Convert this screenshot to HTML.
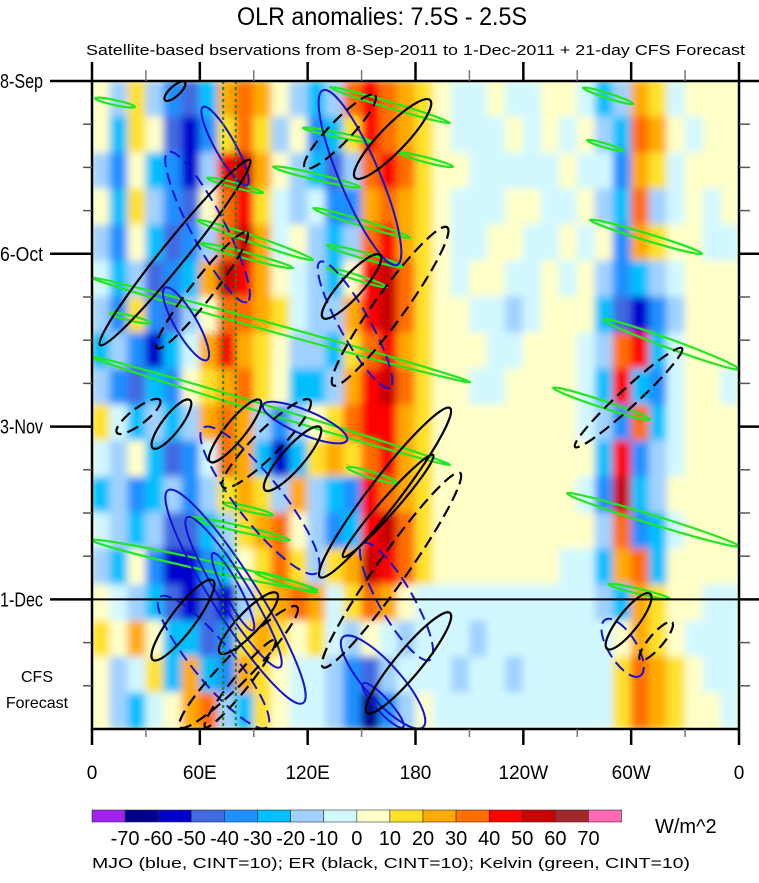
<!DOCTYPE html>
<html><head><meta charset="utf-8">
<style>
html,body{margin:0;padding:0;background:#fff;}
body{width:759px;height:878px;overflow:hidden;font-family:"Liberation Sans",sans-serif;}
svg text{font-family:"Liberation Sans",sans-serif;fill:#000;}
</style></head>
<body>
<svg id="chart" width="759" height="878" viewBox="0 0 759 878">
<defs>
<clipPath id="plotclip"><rect x="92" y="81" width="647" height="648"/></clipPath>
<filter id="smooth" x="-5%" y="-5%" width="110%" height="110%"><feGaussianBlur stdDeviation="4"/></filter>
</defs>
<text x="237" y="25" font-size="25" textLength="290" lengthAdjust="spacingAndGlyphs">OLR anomalies: 7.5S - 2.5S</text>
<text x="86" y="55" font-size="15" textLength="659" lengthAdjust="spacingAndGlyphs">Satellite-based bservations from 8-Sep-2011 to 1-Dec-2011 + 21-day CFS Forecast</text>
<g id="heat" clip-path="url(#plotclip)"><rect x="92" y="81" width="647" height="648" fill="#ffffc8"/><g id="cells" filter="url(#smooth)"></g></g>
<g id="overlay" clip-path="url(#plotclip)"></g>
<g id="axes"></g>
<g id="cbar"></g>
<text x="655" y="833" font-size="20">W/m^2</text>
<text x="92" y="868" font-size="15" textLength="598" lengthAdjust="spacingAndGlyphs">MJO (blue, CINT=10); ER (black, CINT=10); Kelvin (green, CINT=10)</text>
<text x="37" y="682" font-size="16" text-anchor="middle">CFS</text>
<text x="37" y="708" font-size="16" text-anchor="middle">Forecast</text>
</svg>
<script>
// ---- data ----
const lonEdgesStep = 10;
const dayTotal = 105;
const rowCount = 18;
const r00=[5,-15,15,-15,-35,-45,-25,25,35,25,5,-15,-25,-15,35,45,35,25,15,5,-5,-5,5,-5,-5,5,5,-5,-25,-15,25,15,-5,5,5,5];
const r01=[5,-25,15,5,-45,-55,-35,15,35,15,-15,5,-35,-25,15,45,35,25,15,5,-5,-5,-5,5,-5,5,-5,5,-15,-25,35,25,5,-5,5,5];
const r02=[-15,-35,5,-25,-35,-55,-15,45,55,25,5,-15,-25,-45,-15,35,45,35,15,5,5,-5,-5,-5,-5,-5,5,-5,-5,-35,25,15,-5,5,5,5];
const r03=[5,-25,15,-15,-35,-45,5,35,45,15,-5,-15,-5,-35,-35,25,35,25,15,5,-5,-5,-5,5,5,-5,-5,5,-15,-25,35,-15,-5,5,-5,5];
const r04=[-15,-35,5,-25,-45,-35,-15,35,55,25,-5,5,-15,-25,-15,35,45,25,15,5,-5,-5,5,5,-5,-5,5,-5,5,-35,25,15,5,5,-5,-5];
const r05=[-5,-25,-15,-45,-35,-25,25,55,45,25,5,-5,-15,-25,5,45,55,35,15,5,-5,5,5,-5,-5,5,-5,5,-15,-35,-25,-15,-5,5,5,5];
const r06=[-15,-35,15,-35,-45,-15,5,35,35,25,15,-5,-15,-15,25,45,55,35,15,5,5,-5,-5,-15,-5,5,5,5,-25,-45,-55,-35,-15,5,5,5];
const r07=[-25,-15,-35,-55,-25,-5,25,45,25,15,5,-15,-15,-25,15,35,45,25,15,5,5,5,-5,-5,5,5,5,-5,-15,35,45,-25,-5,5,5,5];
const r08=[-15,-35,-45,-25,-35,5,15,25,35,15,5,-25,-25,-15,25,45,55,35,15,5,5,-5,-5,5,5,5,5,-5,-25,45,-25,-35,-5,5,5,-5];
const r09=[15,-5,-25,-15,-25,-15,25,35,25,-15,-35,-15,5,15,35,45,45,25,15,5,5,5,5,5,5,5,5,-5,-15,-35,35,-25,-5,5,5,5];
const r10=[-5,-15,5,-25,-45,-35,-5,35,25,-25,-55,-25,15,25,15,35,45,25,15,5,5,5,5,5,5,5,5,5,-25,45,-35,-15,-5,5,5,5];
const r11=[-25,-15,-35,-25,-15,-35,-15,15,25,15,-15,25,-15,-25,-35,45,35,25,15,5,5,5,5,5,5,5,5,-5,-35,55,-25,-15,5,5,5,5];
const r12=[-5,-15,-25,-15,-45,-45,-25,-15,15,25,35,5,-15,-35,-25,45,55,35,15,5,5,5,5,5,5,5,5,5,-15,35,-35,-25,-5,5,5,5];
const r13=[-15,-25,5,-35,-55,-55,-35,-25,5,15,35,15,-15,15,25,55,45,35,15,5,5,5,5,5,5,5,-5,-5,-25,25,35,-25,5,5,5,5];
const r14=[5,-5,-15,-25,-45,-55,-45,-55,-15,15,25,35,25,-5,15,35,25,5,-5,-5,-5,-5,-5,-5,-5,-5,-5,-5,-15,-25,25,15,5,5,-5,-5];
const r15=[15,5,25,5,-25,-25,-45,-35,15,25,15,5,15,-5,-15,5,-5,-15,-5,-5,-5,-15,-5,-5,-5,-5,-5,-5,-5,5,25,15,5,-5,-5,-5];
const r16=[5,-15,-5,15,-25,25,-25,-35,25,15,5,-5,-5,-15,-35,-45,-15,-5,-5,-5,-15,-5,-5,-15,-5,-5,-5,-5,-5,15,35,25,15,5,-5,-5];
const r17=[5,-15,-25,-5,5,25,35,-15,-25,15,5,-5,-5,-15,-35,-65,-35,-15,5,-5,-5,-5,-5,-5,-5,-5,-5,-5,-5,15,35,25,15,5,5,-5];
const olrRows=[r00,r01,r02,r03,r04,r05,r06,r07,r08,r09,r10,r11,r12,r13,r14,r15,r16,r17];

const cbarLabels=["-70","-60","-50","-40","-30","-20","-10","0","10","20","30","40","50","60","70"];
const xTickLabels=["0","60E","120E","180","120W","60W","0"];
const xTickLons=[0,60,120,180,240,300,360];
const yTickLabels=["8-Sep","6-Oct","3-Nov","1-Dec"];
const yTickDays=[0,28,56,84];

// ER (black)
const erLon1=[4.5,146.4,118.5,36.2,134.1,128.5,33.9,71.2,126.9,139.7,128.5,153.0,33.9,65.7,96.3,72.9,49.0,62.9,13.9,268.8,286.6,305.0,40.6];
const erDay1=[42.8,15.7,14.1,43.3,49.3,38.4,93.8,92.7,80.4,77.1,95.0,102.4,59.5,61.7,66.3,65.8,104.7,104.7,57.0,59.3,92.0,93.8,3.1];
const erLon2=[87.9,188.1,157.5,86.3,197.6,160.3,67.3,102.9,199.2,189.8,204.8,199.2,54.5,93.5,126.9,121.3,114.1,101.8,37.8,328.3,310.5,322.8,51.7];
const erDay2=[12.8,3.1,2.3,24.5,23.7,28.2,80.9,83.0,53.0,60.6,63.5,86.2,51.7,51.7,56.1,51.7,85.2,90.6,51.7,43.3,83.1,87.7,0.2];
const erDashed=[0,0,1,1,1,0,0,0,0,0,1,0,0,0,0,1,1,1,1,1,0,1,0];
const erWidthPx=[24,26,22,22,30,22,24,22,30,16,30,26,18,20,22,26,28,16,16,18,20,14,10];

// MJO (blue)
const mjoLon1=[61.8,42.3,128.5,126.9,40.6,61.8,42.3,52.9,67.3,95.2,139.7,150.8,150.8,37.8,285.5];
const mjoDay1=[4.2,11.5,1.5,29.3,33.5,56.2,66.3,70.7,76.5,52.5,90.1,97.6,74.9,83.6,87.3];
const mjoLon2=[86.3,86.3,169.7,165.8,64.0,125.2,117.4,104.6,89.6,141.9,184.2,173.1,188.1,97.4,305.0];
const mjoDay2=[16.9,35.8,29.8,49.7,45.2,79.7,100.8,95.0,89.0,58.2,104.7,104.7,93.8,104.7,96.4];
const mjoDashed=[0,1,0,1,0,1,0,0,0,0,0,0,1,1,1];
const mjoWidthPx=[20,34,40,30,22,45,45,30,16,24,36,14,34,40,28];

// Kelvin (green)
const kvLon1=[0,0,0,1.7,132.4,117.4,171.4,100.7,64.0,123.0,130.8,58.4,60.1,130.8,10.0,141.9,72.9,54.5,90.7,277.1,284.4,256.5,264.3,287.1,273.2,275.5];
const kvDay1=[31.9,44.7,74.4,2.8,1.0,7.6,11.7,13.9,15.7,20.6,26.6,22.5,26.3,30.3,37.6,62.6,68.4,70.7,79.6,22.5,38.6,49.7,66.8,81.5,1.1,9.6];
const kvLon2=[210.3,199.2,125.2,23.9,199.2,156.4,200.9,149.1,95.2,177.0,173.1,123.0,111.9,164.2,32.3,169.7,100.7,110.2,125.2,339.5,360,310.5,360,321.6,301.1,295.5];
const kvDay2=[48.8,62.2,82.5,4.2,6.8,9.9,13.9,17.2,18.1,25.4,30.1,29.0,30.3,33.4,39.2,65.1,70.3,74.4,82.8,28.0,46.7,54.9,75.4,83.9,3.7,11.3];
const kvWidthPx=[8,8,10,5,6,5,5,6,5,6,6,7,6,5,5,6,5,6,6,7,9,7,9,5,5,4];

// ---- scales ----
const X0=92,X1=739,Y0=81,Y1=729;
function xs(lon){return X0+(X1-X0)*lon/360;}
function ys(day){return Y0+(Y1-Y0)*day/dayTotal;}
const palette=["#a020f0","#00008b","#0000cd","#4169e1","#1e90ff","#00bfff","#a0d2ff","#d2f8ff","#ffffc8","#ffe12a","#ffaa00","#ff6e00","#ff0000","#c80000","#a02828","#ff69b4"];
function colorOf(v){let i=Math.floor((v+80)/10);if(i<0)i=0;if(i>15)i=15;return palette[i];}
const NS="http://www.w3.org/2000/svg";
function mk(tag,attrs,parent){const e=document.createElementNS(NS,tag);for(const k in attrs)e.setAttribute(k,attrs[k]);parent.appendChild(e);return e;}

// heatmap
const cells=document.getElementById('cells');
const rowDays=dayTotal/rowCount;
olrRows.forEach((row,r)=>{
  row.forEach((v,c)=>{
    const x=xs(c*lonEdgesStep), x2=xs((c+1)*lonEdgesStep);
    const y=ys(r*rowDays), y2=ys((r+1)*rowDays);
    const el=mk('rect',{x:x-0.5,y:y-0.5,width:x2-x+1,height:y2-y+1,fill:colorOf(v)},cells);
    
    
  });
});

// overlays
const ov=document.getElementById('overlay');
function ell(l1,d1,l2,d2,w,stroke,dashed,sw,name){
  const xa=xs(l1),ya=ys(d1),xb=xs(l2),yb=ys(d2);
  const cx=(xa+xb)/2,cy=(ya+yb)/2;
  const rx=Math.hypot(xb-xa,yb-ya)/2, ang=Math.atan2(yb-ya,xb-xa)*180/Math.PI;
  const e=mk('ellipse',{cx:cx,cy:cy,rx:rx,ry:w/2,transform:`rotate(${ang} ${cx} ${cy})`,fill:'none',stroke:stroke,'stroke-width':sw},ov);
  if(dashed)e.setAttribute('stroke-dasharray','12 6');
  
  
}
kvLon1.forEach((_,i)=>ell(kvLon1[i],kvDay1[i],kvLon2[i],kvDay2[i],kvWidthPx[i],'#22e622',0,2.2,'kelvin-contour'));
mjoLon1.forEach((_,i)=>ell(mjoLon1[i],mjoDay1[i],mjoLon2[i],mjoDay2[i],mjoWidthPx[i],'#1414d2',mjoDashed[i],2,'mjo-contour'));
erLon1.forEach((_,i)=>ell(erLon1[i],erDay1[i],erLon2[i],erDay2[i],erWidthPx[i],'#000',erDashed[i],2.2,'er-contour'));
[73,80].forEach(lon=>{
  const l=mk('line',{x1:xs(lon),y1:Y0,x2:xs(lon),y2:Y1,stroke:'#1a8a1a','stroke-width':2,'stroke-dasharray':'3 3'},ov);
  
  
});

// axes
const ax=document.getElementById('axes');
mk('rect',{x:X0,y:Y0,width:X1-X0,height:Y1-Y0,fill:'none',stroke:'#000','stroke-width':2.5},ax);
for(let lon=0;lon<=360;lon+=30){
  const major=lon%60===0;
  mk('line',{x1:xs(lon),y1:Y0,x2:xs(lon),y2:Y0-(major?19:11),stroke:major?'#000':'#777','stroke-width':major?2.5:1.5},ax);
  mk('line',{x1:xs(lon),y1:Y1,x2:xs(lon),y2:Y1+(major?16:8),stroke:major?'#000':'#777','stroke-width':major?2.5:1.5},ax);
}
xTickLabels.forEach((t,i)=>{
  const e=mk('text',{x:xs(xTickLons[i]),y:779,'font-size':19,'text-anchor':'middle'},ax);
  e.textContent=t;
  
  
});
for(let d=7;d<dayTotal;d+=7){
  if(d%28===0)continue;
  mk('line',{x1:X0-9,y1:ys(d),x2:X0,y2:ys(d),stroke:'#555','stroke-width':1.5},ax);
  mk('line',{x1:X1,y1:ys(d),x2:X1+11,y2:ys(d),stroke:'#555','stroke-width':1.5},ax);
}
yTickLabels.forEach((t,i)=>{
  const y=ys(yTickDays[i]);
  mk('line',{x1:50,y1:y,x2:X0,y2:y,stroke:'#000','stroke-width':2.5},ax);
  mk('line',{x1:X1,y1:y,x2:759,y2:y,stroke:'#000','stroke-width':2.5},ax);
  if(yTickDays[i]===84) mk('line',{x1:X0,y1:y,x2:X1,y2:y,stroke:'#000','stroke-width':2},ax);
  const e=mk('text',{x:0,y:y+7,'font-size':20,textLength:43,lengthAdjust:'spacingAndGlyphs'},ax);
  e.textContent=t;
  
  
});

// colorbar
const cb=document.getElementById('cbar');
const cbX=92,cbW=33.1,cbY=810,cbH=12;
palette.forEach((c,i)=>{
  const r=mk('rect',{x:cbX+i*cbW,y:cbY,width:cbW,height:cbH,fill:c,stroke:'#333','stroke-width':0.6},cb);
  
  
});
cbarLabels.forEach((t,i)=>{
  const e=mk('text',{x:cbX+(i+1)*cbW,y:845,'font-size':20,'text-anchor':'middle'},cb);
  e.textContent=t;
  
  
});
</script>
</body></html>
